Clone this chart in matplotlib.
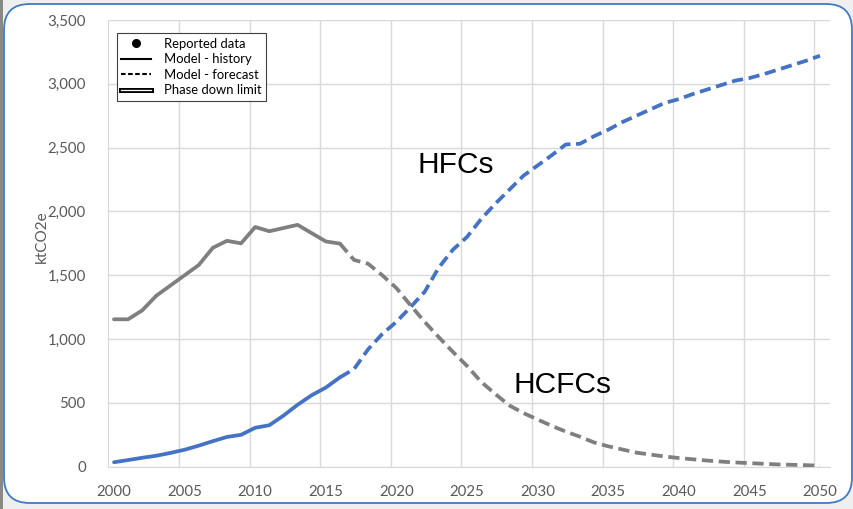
import matplotlib
matplotlib.use("Agg")
import matplotlib.pyplot as plt
import matplotlib.patheffects as pe
from matplotlib.lines import Line2D
from matplotlib.patches import FancyBboxPatch, Rectangle
import numpy as np

years = list(range(2000, 2051))
hfc = [35, 52, 70, 86, 108, 133, 165, 200, 233, 250,
       305, 325, 400, 485, 560, 620, 700, 765, 920, 1040,
       1135, 1250, 1370, 1560, 1700, 1800, 1940, 2060, 2170, 2280,
       2360, 2440, 2525, 2530, 2590, 2640, 2700, 2750, 2800, 2850,
       2880, 2920, 2955, 2990, 3025, 3045, 3075, 3110, 3145, 3180,
       3220]
hcfc = [1155, 1155, 1225, 1340, 1420, 1500, 1580, 1715, 1770, 1750,
        1878, 1845, 1870, 1895, 1830, 1765, 1748, 1620, 1590, 1500,
        1400, 1265, 1135, 1015, 900, 790, 665, 570, 480, 420,
        370, 320, 275, 235, 190, 160, 135, 110, 95, 80,
        68, 58, 48, 40, 33, 28, 23, 18, 15, 12,
        8]
history_end = 2016
xtick_years = list(range(2000, 2051, 5))
yticks = list(range(0, 3501, 500))
legend_labels = ["Reported data", "Model - history", "Model - forecast", "Phase down limit"]
series_labels = ["HFCs", "HCFCs"]

W, H = 854, 509
fig = plt.figure(figsize=(W / 100, H / 100), dpi=100)
fig.patch.set_facecolor("#efefef")

# dark strip on the left and the rounded chart frame
fig.add_artist(Rectangle((0, 0), 3 / W, 1, transform=fig.transFigure,
                         facecolor="#8a8a84", edgecolor="none", zorder=0))
frame = FancyBboxPatch((4 / W, 6 / H), (852 - 4) / W, (505 - 6) / H,
                       boxstyle="round,pad=0,rounding_size=0.03",
                       transform=fig.transFigure, facecolor="white",
                       edgecolor="#3f7bc4", linewidth=1.3, zorder=0,
                       mutation_aspect=W / H)
fig.add_artist(frame)

ax = fig.add_axes([108 / W, 1 - 466.7 / H, (830 - 108) / W, (466.7 - 20) / H])
ax.set_facecolor("none")

blue = "#4472C4"
gray = "#7F7F7F"
lw = 2.7
dash = (3.0, 1.5)

yrs = np.array(years)
hist = yrs <= history_end
fc = yrs >= history_end
for vals, col in ((hfc, blue), (hcfc, gray)):
    v = np.array(vals)
    ax.plot(yrs[hist], v[hist], color=col, lw=lw, solid_capstyle="round",
            solid_joinstyle="round", zorder=3)
    ax.plot(yrs[fc], v[fc], color=col, lw=lw, linestyle=(0, dash),
            dash_capstyle="butt", zorder=3)

ax.set_xlim(1999.575, 2050.71)
ax.set_ylim(0, 3500)

ax.set_xticks(xtick_years)
ax.set_xticklabels([str(y) for y in xtick_years])
ax.set_yticks(yticks)
ax.set_yticklabels([f"{y:,}" for y in yticks])
ax.set_xticks([1999.6 + 5 * k for k in range(1, 11)], minor=True)
ax.tick_params(which="both", length=0)
ax.tick_params(axis="x", pad=13)
ax.tick_params(axis="y", pad=16)
for lab in ax.get_xticklabels() + ax.get_yticklabels():
    lab.set_fontfamily("Lato")
    lab.set_fontsize(10.8)
    lab.set_color("#595959")

ax.grid(axis="y", which="major", color="#d9d9d9", lw=1)
ax.grid(axis="x", which="minor", color="#d9d9d9", lw=1)
ax.grid(axis="x", which="major", visible=False)
for s in ("top", "right"):
    ax.spines[s].set_visible(False)
ax.spines["left"].set_color("#d9d9d9")
ax.spines["bottom"].set_color("#d9d9d9")
ax.set_axisbelow(True)

fig.text(42 / W, 1 - 237 / H, "ktCO2e", rotation=90, ha="center", va="center",
         fontfamily="Lato", fontsize=11, color="#595959")

ax.text(2021.46, 2298, series_labels[0], fontsize=21.5, family="Liberation Sans",
        color="black", ha="left", va="baseline")
ax.text(2028.26, 579, series_labels[1], fontsize=21.5, family="Liberation Sans",
        color="black", ha="left", va="baseline")

handles = [
    Line2D([], [], linestyle="none", marker="o", color="black", markersize=5.5),
    Line2D([], [], color="black", lw=1.5),
    Line2D([], [], color="black", lw=1.5, linestyle=(0, (2.2, 1.2))),
    Line2D([], [], color="white", lw=0.9,
           path_effects=[pe.Stroke(linewidth=3.6, foreground="black"), pe.Normal()]),
]
leg = fig.legend(handles, legend_labels, loc="upper left",
                 bbox_to_anchor=(116.7 / W, 1 - 33.3 / H), bbox_transform=fig.transFigure,
                 borderaxespad=0, frameon=True, fancybox=False, framealpha=1,
                 edgecolor="#404040", prop={"family": "Lato", "size": 9.4},
                 handlelength=2.3, handletextpad=0.95, labelspacing=0.27,
                 borderpad=0.35)
leg.get_frame().set_linewidth(0.8)

fig.savefig("out.png", dpi=100, facecolor=fig.get_facecolor())
